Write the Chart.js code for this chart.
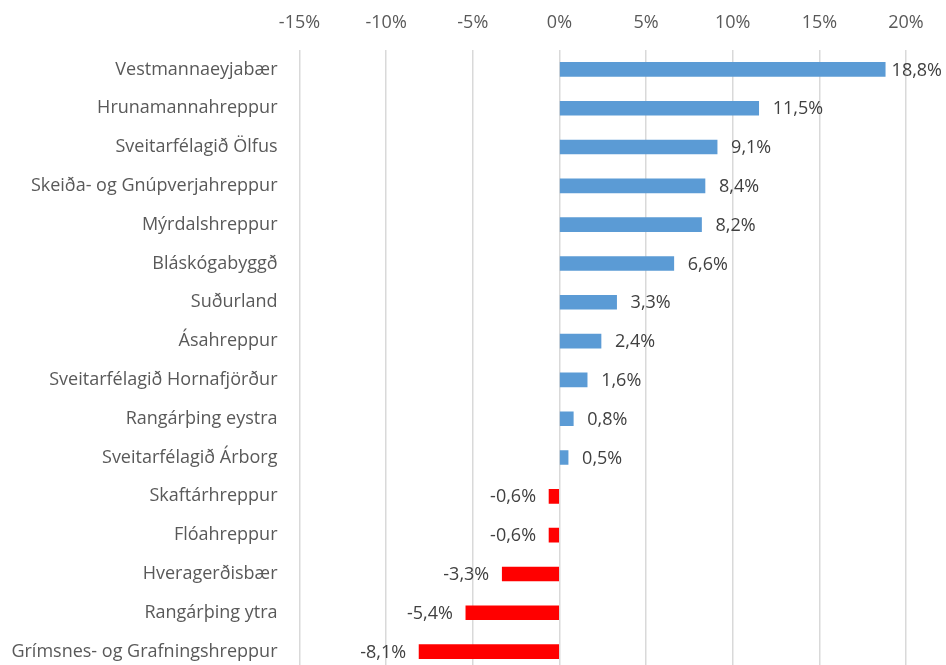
<!DOCTYPE html>
<html>
<head>
<meta charset="utf-8">
<script src="https://cdn.jsdelivr.net/npm/chart.js@4.4.0/dist/chart.umd.min.js"></script>
<style>
    html, body { margin: 0; padding: 0; background: #fff; overflow: hidden; }
    canvas { display: block; }
</style>
</head>
<body>
<canvas id="chart-change" width="946" height="671"></canvas>
<script>
const CATEGORIES = [
    'Vestmannaeyjabær',
    'Hrunamannahreppur',
    'Sveitarfélagið Ölfus',
    'Skeiða- og Gnúpverjahreppur',
    'Mýrdalshreppur',
    'Bláskógabyggð',
    'Suðurland',
    'Ásahreppur',
    'Sveitarfélagið Hornafjörður',
    'Rangárþing eystra',
    'Sveitarfélagið Árborg',
    'Skaftárhreppur',
    'Flóahreppur',
    'Hveragerðisbær',
    'Rangárþing ytra',
    'Grímsnes- og Grafningshreppur'
];
const VALUES = [18.8, 11.5, 9.1, 8.4, 8.2, 6.6, 3.3, 2.4, 1.6, 0.8, 0.5, -0.6, -0.6, -3.3, -5.4, -8.1];
const X_MIN = -15;
const X_MAX = 20;
const X_STEP = 5;

const COLORS = {
    pos: '#5B9BD5',
    neg: '#FF0000',
    grid: '#D9D9D9',
    text: '#595959',
    label: '#404040'
};
const FONT = 'Open Sans';
const FONT_SIZE = 18;

const fmt = v => v.toFixed(1).replace('.', ',') + '%';

// value labels next to bar ends, Excel style
const valueLabels = {
    id: 'valueLabels',
    afterDatasetsDraw(chart) {
        const ctx = chart.ctx;
        const meta = chart.getDatasetMeta(0);
        ctx.save();
        ctx.font = `${FONT_SIZE}px ${FONT}`;
        ctx.fillStyle = COLORS.label;
        ctx.textBaseline = 'middle';
        meta.data.forEach((bar, i) => {
            const v = VALUES[i];
            const txt = fmt(v);
            const w = ctx.measureText(txt).width;
            let x;
            if (v >= 0) {
                x = bar.x + 14;
                if (x + w > chart.width - 4) x = chart.width - 4 - w;
            } else {
                x = bar.x - 13 - w;
            }
            ctx.textAlign = 'left';
            ctx.fillText(txt, x, bar.y + 1);
        });
        ctx.restore();
    }
};

new Chart(document.getElementById('chart-change'), {
    type: 'bar',
    data: {
        labels: CATEGORIES,
        datasets: [{
            data: VALUES,
            backgroundColor: VALUES.map(v => v >= 0 ? COLORS.pos : COLORS.neg),
            barThickness: 14,
            borderWidth: 0
        }]
    },
    options: {
        indexAxis: 'y',
        responsive: false,
        animation: false,
        layout: { padding: { top: 0, right: 40, bottom: 0, left: 0 } },
        plugins: {
            legend: { display: false },
            tooltip: { enabled: false }
        },
        scales: {
            x: {
                position: 'top',
                min: X_MIN,
                max: X_MAX,
                ticks: {
                    stepSize: X_STEP,
                    color: COLORS.text,
                    font: { family: FONT, size: FONT_SIZE },
                    padding: 16,
                    callback: v => v + '%'
                },
                grid: { color: COLORS.grid, lineWidth: 1.5, drawTicks: false },
                border: { display: false },
                afterFit: s => { s.height = 50; }
            },
            y: {
                ticks: {
                    color: COLORS.text,
                    font: { family: FONT, size: FONT_SIZE },
                    padding: 14
                },
                grid: { display: false },
                border: { display: false },
                afterFit: s => {
                    s.width = 299.5;
                    // tick padding would otherwise eat space at the bottom
                    s.paddingTop = 0;
                    s.paddingBottom = 0;
                }
            }
        }
    },
    plugins: [valueLabels]
});
</script>
</body>
</html>
